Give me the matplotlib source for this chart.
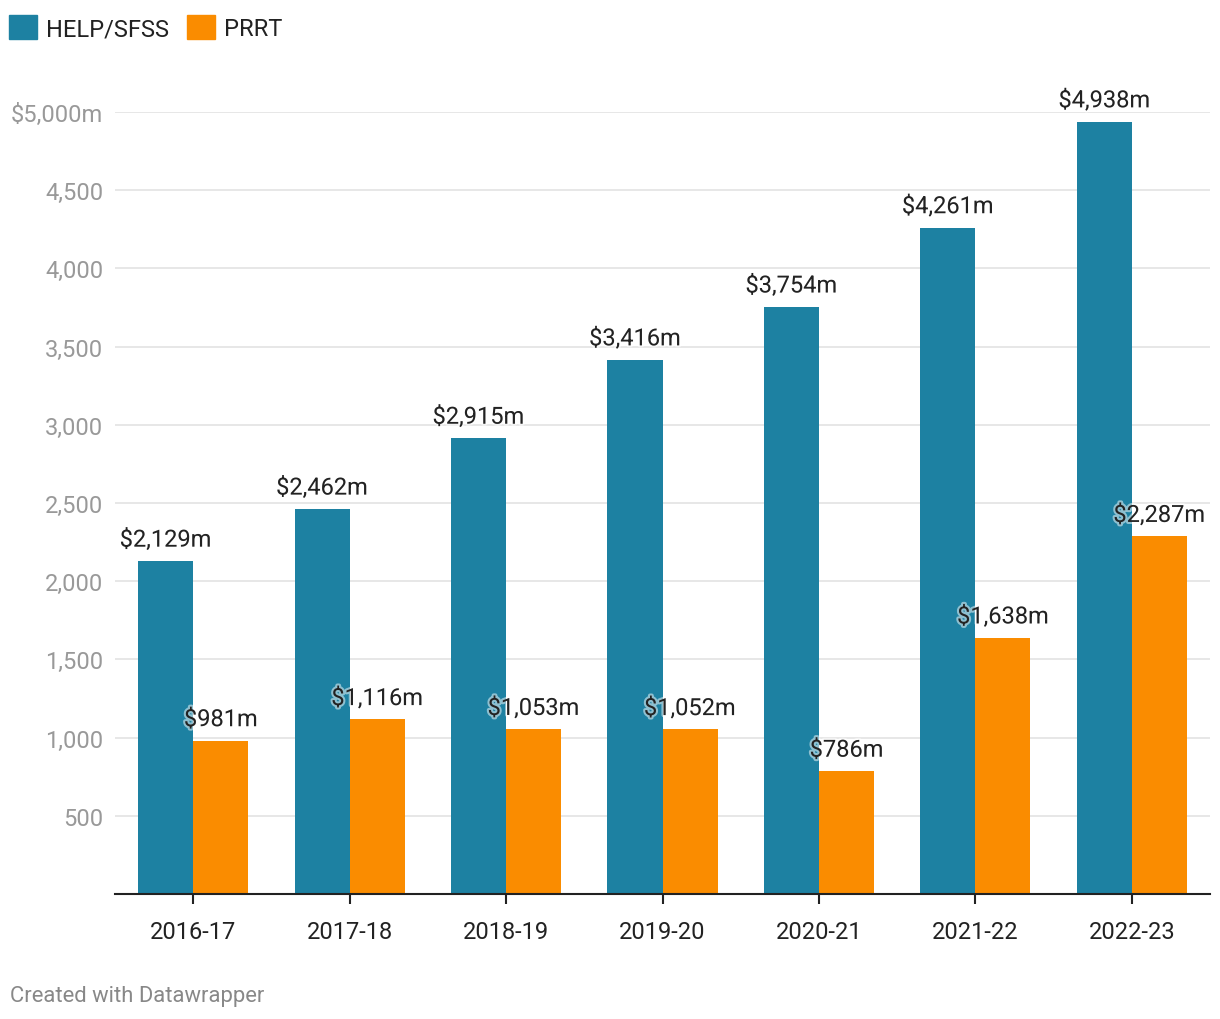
import matplotlib.pyplot as plt
import matplotlib.patheffects as pe
from matplotlib.patches import Patch
import numpy as np

plt.rcParams['font.family'] = ['Roboto', 'DejaVu Sans']

years = ['2016-17', '2017-18', '2018-19', '2019-20', '2020-21', '2021-22', '2022-23']
help_sfss = [2129, 2462, 2915, 3416, 3754, 4261, 4938]
prrt = [981, 1116, 1053, 1052, 786, 1638, 2287]

blue = '#1d81a2'
orange = '#fa8c00'

fig = plt.figure(figsize=(12.2, 10.2), dpi=100)
ax = fig.add_axes([115 / 1220, 1 - 895 / 1020, 1095 / 1220, 782 / 1020])

x = np.arange(len(years))
w = 0.352
ax.bar(x - w / 2, help_sfss, w, color=blue, zorder=2)
ax.bar(x + w / 2, prrt, w, color=orange, zorder=2)

glow = [pe.withStroke(linewidth=3, foreground='white', alpha=0.5)]
for xi, v in zip(x, help_sfss):
    ax.text(xi - w / 2, v + 60, '${:,}m'.format(v), ha='center', va='bottom',
            fontsize=17, color='#222222', path_effects=glow, zorder=3, clip_on=False)
for xi, v in zip(x, prrt):
    ax.text(xi + w / 2, v + 60, '${:,}m'.format(v), ha='center', va='bottom',
            fontsize=17, color='#222222', path_effects=glow, zorder=3, clip_on=False)

ax.set_xlim(-0.5, len(years) - 0.5)
ax.set_ylim(0, 5000)
yt = np.arange(500, 5001, 500)
ax.set_yticks(yt)
ax.set_yticklabels(['{:,}'.format(v) for v in yt[:-1]] + ['$5,000m'])
ax.tick_params(axis='y', length=0, pad=8.5, labelsize=17, labelcolor='#999999')
ax.set_xticks(x)
ax.set_xticklabels(years)
ax.tick_params(axis='x', length=7, width=1.5, color='#222222', pad=11.5,
               labelsize=17, labelcolor='#222222')
ax.grid(axis='y', color='#e3e3e3', linewidth=1.2, zorder=0)
for s in ['top', 'right', 'left']:
    ax.spines[s].set_visible(False)
ax.spines['bottom'].set_color('#222222')
ax.spines['bottom'].set_linewidth(1.5)
ax.spines['bottom'].set_zorder(4)

handles = [Patch(color=blue, label='HELP/SFSS'), Patch(color=orange, label='PRRT')]
fig.legend(handles=handles, loc='upper left', bbox_to_anchor=(0.0, 1 - 7 / 1020), ncol=2,
           frameon=False, fontsize=17, handlelength=1.18, handleheight=1.18,
           handletextpad=0.35, columnspacing=0.8, borderaxespad=0.0,
           borderpad=0.4, labelcolor='#222222')

fig.text(10 / 1220, 1 - 997 / 1020, 'Created with Datawrapper', fontsize=15.8,
         color='#888888', ha='left', va='center')

fig.savefig('out.png', dpi=100)
